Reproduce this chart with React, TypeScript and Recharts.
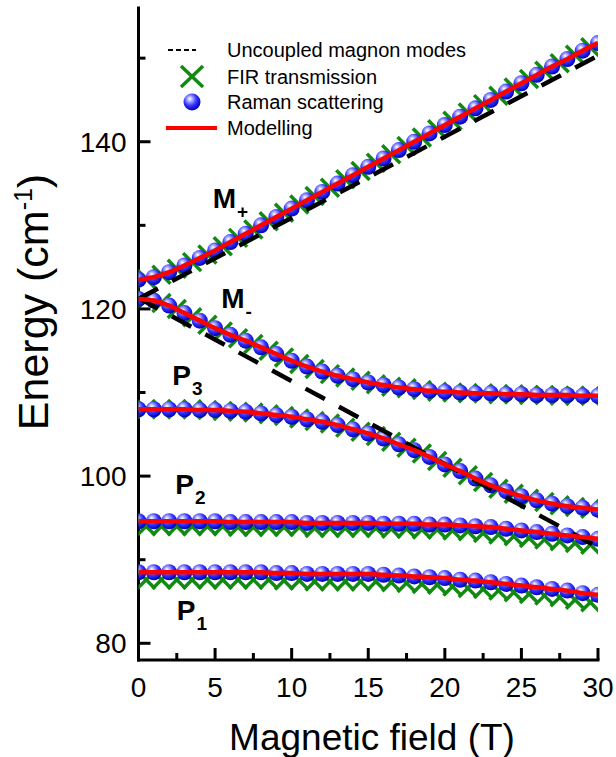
import React from "react";
import { ComposedChart, Scatter, XAxis, YAxis, Legend, ReferenceDot } from "recharts";

const FONT = "'Liberation Sans', Arial, Helvetica, sans-serif";

// magnetic field (T): Raman / model points at whole tesla, FIR points in between
const fieldRaman = [0, 1, 2, 3, 4, 5, 6, 7, 8, 9, 10, 11, 12, 13, 14, 15, 16, 17, 18, 19, 20, 21, 22, 23, 24, 25, 26, 27, 28, 29, 30];
const fieldFir = [0.5, 1.5, 2.5, 3.5, 4.5, 5.5, 6.5, 7.5, 8.5, 9.5, 10.5, 11.5, 12.5, 13.5, 14.5, 15.5, 16.5, 17.5, 18.5, 19.5, 20.5, 21.5, 22.5, 23.5, 24.5, 25.5, 26.5, 27.5, 28.5, 29.5];

// Raman scattering / modelling (cm-1)
const mPlus = [123.5, 123.8, 124.4, 125.2, 126.1, 127.0, 128.0, 129.0, 130.0, 131.0, 132.0, 133.0, 134.0, 135.0, 136.0, 137.0, 138.0, 139.0, 140.0, 141.0, 142.0, 143.0, 144.0, 145.0, 146.0, 147.0, 148.0, 149.0, 149.9, 150.9, 151.8];
const mMinus = [121.2, 121.0, 120.4, 119.5, 118.6, 117.7, 116.9, 116.2, 115.4, 114.6, 113.8, 113.1, 112.5, 112.0, 111.6, 111.2, 110.9, 110.6, 110.4, 110.2, 110.1, 110.0, 109.9, 109.9, 109.8, 109.8, 109.7, 109.7, 109.7, 109.6, 109.6];
const p3 = [108.0, 108.0, 108.0, 108.0, 107.9, 107.9, 107.8, 107.7, 107.5, 107.3, 107.1, 106.8, 106.5, 106.1, 105.6, 105.1, 104.5, 103.8, 103.1, 102.3, 101.4, 100.6, 99.7, 98.9, 98.2, 97.6, 97.1, 96.7, 96.4, 96.2, 96.0];
const p2 = [94.6, 94.6, 94.6, 94.6, 94.6, 94.6, 94.5, 94.5, 94.5, 94.5, 94.5, 94.4, 94.4, 94.4, 94.4, 94.4, 94.3, 94.3, 94.3, 94.2, 94.2, 94.1, 94.0, 93.9, 93.7, 93.5, 93.3, 93.1, 92.9, 92.7, 92.5];
const p1 = [88.5, 88.5, 88.5, 88.5, 88.5, 88.5, 88.5, 88.5, 88.5, 88.4, 88.4, 88.3, 88.3, 88.3, 88.3, 88.3, 88.2, 88.1, 88.0, 87.9, 87.8, 87.6, 87.5, 87.3, 87.1, 86.9, 86.7, 86.5, 86.3, 86.0, 85.8];

// FIR transmission (cm-1)
const firMPlus = [123.6, 124.1, 124.8, 125.6, 126.5, 127.5, 128.5, 129.5, 130.5, 131.5, 132.5, 133.5, 134.5, 135.5, 136.5, 137.5, 138.5, 139.5, 140.5, 141.5, 142.5, 143.5, 144.5, 145.5, 146.5, 147.5, 148.5, 149.4, 150.4, 151.3];
const firMMinus = [121.1, 120.7, 120.0, 119.0, 118.1, 117.3, 116.5, 115.8, 115.0, 114.2, 113.4, 112.8, 112.2, 111.8, 111.4, 111.0, 110.7, 110.5, 110.3, 110.1, 110.0, 109.9, 109.9, 109.8, 109.8, 109.7, 109.7, 109.6, 109.6, 109.6];
const firP3 = [108.0, 108.0, 108.0, 108.0, 107.9, 107.8, 107.7, 107.6, 107.4, 107.2, 106.9, 106.6, 106.3, 105.8, 105.3, 104.8, 104.1, 103.4, 102.7, 101.8, 101.0, 100.1, 99.3, 98.5, 97.9, 97.3, 96.9, 96.5, 96.3, 96.1];
const firP2 = [94.0, 94.0, 94.0, 94.0, 94.0, 94.0, 93.9, 93.9, 93.9, 93.9, 93.9, 93.8, 93.8, 93.8, 93.8, 93.8, 93.7, 93.7, 93.6, 93.6, 93.5, 93.4, 93.2, 93.0, 92.8, 92.6, 92.4, 92.2, 92.0, 91.8];
const firP1 = [87.6, 87.6, 87.6, 87.6, 87.6, 87.6, 87.6, 87.6, 87.6, 87.5, 87.5, 87.4, 87.4, 87.4, 87.4, 87.4, 87.3, 87.2, 87.1, 87.0, 86.8, 86.6, 86.5, 86.3, 86.1, 85.9, 85.7, 85.5, 85.2, 84.9];

// uncoupled magnon modes (end points of straight lines)
const fieldUncoupled = [0, 30];
const uncoupledUpper = [121.2, 150.3];
const uncoupledLower = [121.3, 91.5];

const xTicks = [0, 2.5, 5, 7.5, 10, 12.5, 15, 17.5, 20, 22.5, 25, 27.5, 30];
const yTicks = [80, 90, 100, 110, 120, 130, 140, 150];

const toRows = (bs: number[], es: number[]) => bs.map((b, i) => ({ b, e: es[i] }));

const ramanSets = [mPlus, mMinus, p3, p2, p1].map((s) => toRows(fieldRaman, s));
const firSets = [firMPlus, firMMinus, firP3, firP2, firP1].map((s) => toRows(fieldFir, s));
const uncoupledSets = [uncoupledUpper, uncoupledLower].map((s) => toRows(fieldUncoupled, s));

const branchLabels = [
  { b: 4.85, e: 132.1, main: "M", sub: "+" },
  { b: 5.4, e: 120.1, main: "M", sub: "-" },
  { b: 2.2, e: 110.9, main: "P", sub: "3" },
  { b: 2.4, e: 97.9, main: "P", sub: "2" },
  { b: 2.5, e: 82.8, main: "P", sub: "1" },
];

const GREEN = "#128a12";

const FirMark = (props: any) => {
  const { cx, cy } = props;
  const s = 9;
  return (
    <g stroke={GREEN} strokeWidth={3.5}>
      <line x1={cx - s} y1={cy - s} x2={cx + s} y2={cy + s} />
      <line x1={cx - s} y1={cy + s} x2={cx + s} y2={cy - s} />
    </g>
  );
};

const RamanMark = (props: any) => <circle cx={props.cx} cy={props.cy} r={8} fill="url(#sphereFill)" />;

const NoMark = () => <g />;

const BottomTick = (props: any) => {
  const { x, y, payload } = props;
  const major = payload.value % 5 === 0;
  return (
    <g>
      <line x1={x} y1={y} x2={x} y2={y - (major ? 12 : 7)} stroke="#000" strokeWidth={3} />
      {major && (
        <text x={x} y={y + 37} textAnchor="middle" fontSize={28} fontFamily={FONT} fill="#000">
          {payload.value}
        </text>
      )}
    </g>
  );
};

const TopTick = (props: any) => {
  const { x, y, payload } = props;
  const major = payload.value % 5 === 0;
  return <line x1={x} y1={y} x2={x} y2={y + (major ? 12 : 7)} stroke="#000" strokeWidth={3} />;
};

const LeftTick = (props: any) => {
  const { x, y, payload } = props;
  const major = payload.value % 20 === 0;
  return (
    <g>
      <line x1={x} y1={y} x2={x + (major ? 12 : 7)} y2={y} stroke="#000" strokeWidth={3} />
      {major && (
        <text x={x - 12} y={y + 10} textAnchor="end" fontSize={28} fontFamily={FONT} fill="#000">
          {payload.value}
        </text>
      )}
    </g>
  );
};

const RightTick = (props: any) => {
  const { x, y, payload } = props;
  const major = payload.value % 20 === 0;
  return <line x1={x} y1={y} x2={x - (major ? 12 : 7)} y2={y} stroke="#000" strokeWidth={3} />;
};

const BranchLabel = ({ cx, cy, main, sub }: any) => (
  <text x={cx} y={cy} fontFamily={FONT} fontWeight="bold" fontSize={28} fill="#000">
    {main}
    <tspan fontSize={19} dx={1} dy={10}>
      {sub}
    </tspan>
  </text>
);

const YTitle = (props: any) => {
  const { viewBox } = props;
  return (
    <text
      transform={`translate(${viewBox.x + 48}, 302) rotate(-90)`}
      textAnchor="middle"
      fontSize={43}
      fontFamily={FONT}
      fill="#000"
    >
      Energy (cm
      <tspan fontSize={25} dy={-16}>-1</tspan>
      <tspan dy={16}>)</tspan>
    </text>
  );
};

const XTitle = (props: any) => {
  const { viewBox } = props;
  return (
    <text x={372} y={viewBox.y + 90} textAnchor="middle" fontSize={37} fontFamily={FONT} fill="#000">
      Magnetic field (T)
    </text>
  );
};

const LegendBox = () => (
  <svg width={360} height={115} style={{ display: "block" }}>
    <defs>
      <radialGradient id="legendSphere" cx="42%" cy="38%" r="62%" fx="36%" fy="30%">
        <stop offset="0%" stopColor="#ffffff" />
        <stop offset="22%" stopColor="#b4b4ff" />
        <stop offset="60%" stopColor="#3434ff" />
        <stop offset="100%" stopColor="#0000b4" />
      </radialGradient>
    </defs>
    <line x1={18} y1={20} x2={46} y2={20} stroke="#000" strokeWidth={2} strokeDasharray="5 3" />
    <g stroke={GREEN} strokeWidth={3.5}>
      <line x1={31} y1={36} x2={53} y2={57} />
      <line x1={31} y1={57} x2={53} y2={36} />
    </g>
    <circle cx={42} cy={72} r={8.5} fill="url(#legendSphere)" />
    <line x1={16} y1={98} x2={67} y2={98} stroke="#ff0000" strokeWidth={4} />
    <g fontFamily={FONT} fontSize={20} fill="#000">
      <text x={77} y={27}>Uncoupled magnon modes</text>
      <text x={77} y={54}>FIR transmission</text>
      <text x={77} y={79}>Raman scattering</text>
      <text x={77} y={105}>Modelling</text>
    </g>
  </svg>
);

const axisLine = { stroke: "#000", strokeWidth: 3, strokeLinecap: "square" as const };

export default function App() {
  return (
    <div style={{ position: "absolute", left: 0, top: 0, width: 616, height: 757, background: "#fff" }}>
      <ComposedChart width={616} height={757} margin={{ top: 8, right: 18, bottom: 0, left: 0 }}>
        <defs>
          <radialGradient id="sphereFill" cx="42%" cy="38%" r="62%" fx="36%" fy="30%">
            <stop offset="0%" stopColor="#ffffff" />
            <stop offset="22%" stopColor="#b4b4ff" />
            <stop offset="60%" stopColor="#3434ff" />
            <stop offset="100%" stopColor="#0000b4" />
          </radialGradient>
        </defs>
        <XAxis
          dataKey="b"
          type="number"
          domain={[0, 30]}
          allowDataOverflow
          ticks={xTicks}
          interval={0}
          height={97}
          tickSize={0}
          tickMargin={0}
          tickLine={false}
          axisLine={axisLine}
          tick={<BottomTick />}
          label={<XTitle />}
        />
        <XAxis
          xAxisId="top"
          orientation="top"
          dataKey="b"
          type="number"
          domain={[0, 30]}
          allowDataOverflow
          ticks={xTicks}
          interval={0}
          height={0}
          tickSize={0}
          tickMargin={0}
          tickLine={false}
          axisLine={axisLine}
          tick={<TopTick />}
        />
        <YAxis
          type="number"
          domain={[78, 156]}
          allowDataOverflow
          ticks={yTicks}
          interval={0}
          width={138.5}
          tickSize={0}
          tickMargin={0}
          tickLine={false}
          axisLine={axisLine}
          tick={<LeftTick />}
          label={<YTitle />}
        />
        <YAxis
          yAxisId="right"
          orientation="right"
          type="number"
          domain={[78, 156]}
          allowDataOverflow
          ticks={yTicks}
          interval={0}
          width={0}
          tickSize={0}
          tickMargin={0}
          tickLine={false}
          axisLine={axisLine}
          tick={<RightTick />}
        />
        <Legend
          content={() => <LegendBox />}
          layout="horizontal"
          verticalAlign="middle"
          align="center"
          wrapperStyle={{ top: 30, left: 150, width: 360, height: 115 }}
        />

        {firSets.map((rows, i) => (
          <Scatter key={`fir-${i}`} data={rows} dataKey="e" shape={<FirMark />} isAnimationActive={false} />
        ))}
        {ramanSets.map((rows, i) => (
          <Scatter key={`raman-${i}`} data={rows} dataKey="e" shape={<RamanMark />} isAnimationActive={false} />
        ))}
        {uncoupledSets.map((rows, i) => (
          <Scatter
            key={`unc-${i}`}
            data={rows}
            dataKey="e"
            shape={<NoMark />}
            line={{ stroke: "#000", strokeWidth: 4.5, strokeDasharray: "22 16" }}
            lineType="joint"
            isAnimationActive={false}
          />
        ))}
        {ramanSets.map((rows, i) => (
          <Scatter
            key={`model-${i}`}
            data={rows}
            dataKey="e"
            shape={<NoMark />}
            line={{ stroke: "#ff0000", strokeWidth: 4.5 }}
            lineType="joint"
            lineJointType="monotoneX"
            isAnimationActive={false}
          />
        ))}
        {branchLabels.map((l) => (
          <ReferenceDot
            key={`${l.main}${l.sub}`}
            x={l.b}
            y={l.e}
            r={1}
            shape={(p: any) => <BranchLabel cx={p.cx} cy={p.cy} main={l.main} sub={l.sub} />}
          />
        ))}
      </ComposedChart>
    </div>
  );
}
